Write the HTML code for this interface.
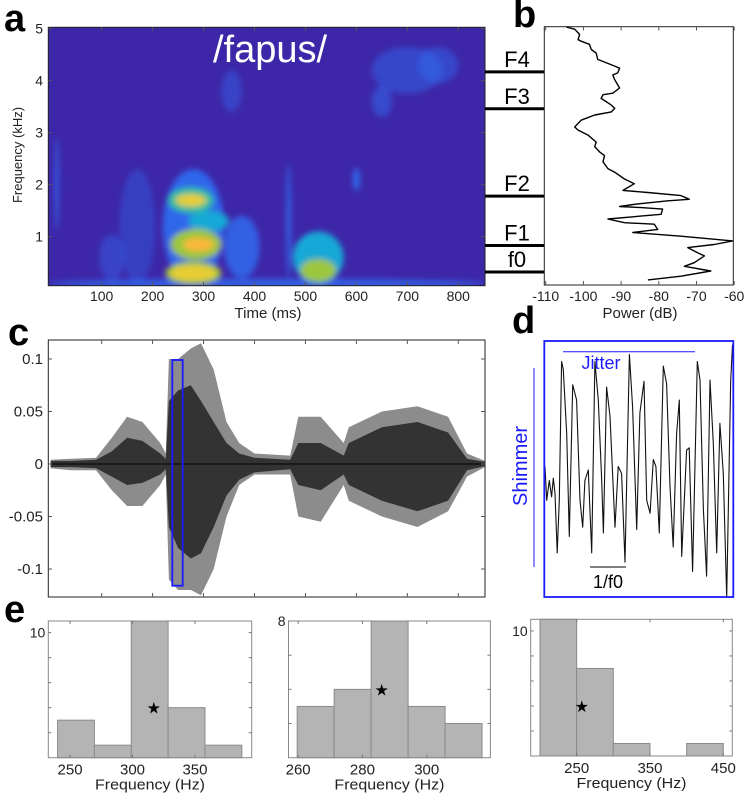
<!DOCTYPE html>
<html><head><meta charset="utf-8"><style>
html,body{margin:0;padding:0;background:#fff;}
svg{display:block;font-family:"Liberation Sans",sans-serif;}
</style></head><body>
<svg id="fig" width="750" height="793" viewBox="0 0 750 793" xmlns="http://www.w3.org/2000/svg">
<defs>
<clipPath id="clipA"><rect x="48.3" y="27.3" width="436.7" height="258.4"/></clipPath>
<clipPath id="clipC"><rect x="48.3" y="340" width="436.7" height="257"/></clipPath>
<filter id="blur4" x="-50%" y="-50%" width="200%" height="200%"><feGaussianBlur stdDeviation="3"/></filter>
</defs>
<g id="panelA"></g>
<g id="panelB"></g>
<g id="panelC"></g>
<g id="panelD"></g>
<g id="panelE"></g>
</svg>
<script>
// ---------- data ----------
// spectrogram energy regions (heatmap)
const blobTime = [280, 290, 285, 275, 275, 280, 280, 375, 525, 525, 600, 700, 650, 760, 355, 170, 12, 467, 425, 120, 310];
const blobFreq = [1.2, 0.85, 0.85, 1.7, 1.7, 0.3, 0.3, 0.8, 0.6, 0.35, 2.1, 4.2, 3.6, 4.3, 3.8, 1.2, 2.0, 1.3, 0.1, 0.6, 1.3];
const blobRT = [60, 30, 50, 30, 45, 55, 45, 35, 50, 35, 7, 70, 20, 40, 20, 35, 4, 5, 430, 25, 40];
const blobRF = [1.1, 0.13, 0.3, 0.12, 0.25, 0.22, 0.15, 0.6, 0.5, 0.22, 0.22, 0.45, 0.3, 0.35, 0.4, 1.1, 0.9, 1.1, 0.09, 0.45, 0.2];
const blobLevel = [0.9, 6, 3.5, 4.5, 3, 4, 5, 0.8, 2, 4.3, 0.9, 0.45, 0.5, 0.45, 0.4, 0.35, 0.8, 0.8, 0.8, 0.4, 2];
const levelColor = ['#3e26a8', '#2f6ef2', '#18a8d6', '#34bd9c', '#9cc63e', '#e7cd34', '#fbb83a'];
// power spectrum
const bPower = [-104.5,-102.3,-101,-101.4,-100.6,-98.4,-97.9,-96.6,-96.2,-94.8,-91.7,-90.4,-90.9,-92.2,-91.7,-90.4,-92.2,-94.8,-95.3,-94,-92.6,-91.7,-92.6,-97,-100.6,-102.3,-101.4,-98.7,-96.6,-97,-95.7,-94.4,-94.8,-93.5,-91.7,-89.1,-86.5,-89.5,-82.9,-74.1,-71.9,-77.6,-85.6,-90.4,-84.7,-79,-79.4,-93.5,-89.1,-81.2,-80.3,-86.9,-74.1,-60.4,-65.3,-72.3,-69.7,-67.9,-70.6,-73.2,-66.2,-74.1,-82.9];
const bFreq = [5.03,4.99,4.89,4.79,4.76,4.70,4.60,4.53,4.41,4.37,4.28,4.24,4.15,4.11,4.02,3.86,3.76,3.73,3.66,3.60,3.53,3.47,3.40,3.34,3.24,3.11,3.05,2.95,2.82,2.73,2.63,2.56,2.44,2.31,2.24,2.11,2.02,1.89,1.85,1.79,1.72,1.69,1.63,1.58,1.56,1.53,1.43,1.34,1.27,1.24,1.14,1.08,1.01,0.92,0.85,0.79,0.69,0.63,0.50,0.43,0.34,0.24,0.17];
const formantNames = ['F4','F3','F2','F1','f0'];
const formantFreq = [4.17, 3.46, 1.78, 0.83, 0.32];
// waveform envelope
const envTime = [0,40,89,120,150,180,215,226,232,250,275,295,320,345,370,400,470,486,530,575,585,650,720,780,817,852];
const envOuterUp = [.004,.005,.006,.025,.045,.04,.02,.01,.1,.1,.11,.115,.09,.04,.02,.01,.008,.045,.045,.02,.035,.05,.055,.045,.01,.003];
const envInnerUp = [.003,.003,.004,.012,.025,.022,.01,.005,.06,.07,.075,.06,.04,.02,.01,.006,.004,.02,.02,.008,.02,.035,.04,.03,.005,.002];
const envInnerLo = [-.003,-.003,-.004,-.012,-.02,-.018,-.01,-.005,-.06,-.08,-.09,-.085,-.06,-.03,-.015,-.008,-.005,-.02,-.025,-.01,-.02,-.035,-.045,-.035,-.006,-.002];
const envOuterLo = [-.004,-.006,-.006,-.025,-.04,-.04,-.02,-.01,-.11,-.12,-.12,-.125,-.1,-.05,-.02,-.01,-.01,-.05,-.055,-.02,-.035,-.05,-.06,-.045,-.012,-.003];
const cTicksY = [0.1, 0.05, 0, -0.05, -0.1];
const cTickLabels = ['0.1','0.05','0','-0.05','-0.1'];
// zoomed waveform (percent of window, normalized amplitude)
const dTime = [0,.9,2.3,3.5,4.4,5.3,6.5,7.6,8.8,9.7,11.5,12.9,14.7,16.8,18.6,20,21.2,23,24.8,26.5,28.3,30.1,31,32.7,34.5,37.2,38.9,40.7,42.5,44.8,46.5,48.7,50.4,52.6,54,55.8,57.5,58.9,60.7,62.8,64.6,66.4,68.1,69.9,71.3,72.6,75.2,76.6,78.4,80.9,82.3,84.1,85.8,87.6,89.4,91.2,92.9,94.7,96.5,98.6,99.6,100];
const dAmp = [.03,-.26,-.09,-.23,-.07,-.2,-.71,-.26,.93,.86,.31,-.57,.73,.6,-.26,-.49,-.09,0,-.71,.93,.6,-.09,-.54,.71,.46,-.49,.03,-.03,-.79,.99,.54,-.51,.49,.76,-.26,-.37,.09,.03,-.54,.89,.74,-.14,-.66,.31,.6,-.74,.17,.19,-.87,.93,.77,-.34,-.91,.77,.23,-.71,.4,-.03,-1.09,.77,1.07,.89];
// histograms
const h1Start = 240, h1Width = 29.5, h1Counts = [3,1,11,4,1], h1Star = [317,4], h1XTicks = [250,300,350];
const h2Start = 259.7, h2Width = 11.5, h2Counts = [3,4,8,3,2], h2Star = [286,4], h2XTicks = [260,280,300];
const h3Start = 200, h3Width = 50, h3Counts = [11,7,1,0,1], h3Star = [257,4], h3XTicks = [250,350,450];

// ---------- helpers ----------
const NS = 'http://www.w3.org/2000/svg';
function mk(tag, attrs, parent, text) {
  const e = document.createElementNS(NS, tag);
  for (const k in attrs) e.setAttribute(k, attrs[k]);
  if (text !== undefined) e.textContent = text;
  parent.appendChild(e);
  return e;
}
const A = document.getElementById('panelA');
const B = document.getElementById('panelB');
const C = document.getElementById('panelC');
const D = document.getElementById('panelD');
const E = document.getElementById('panelE');

const tx = t => 50.7 + t * 0.5095;
const fy = k => 288.7 - 52 * k;

// ---------- panel a ----------
let el = mk('text', {x: 4, y: 31, 'font-size': 38, 'font-weight': 'bold'}, A, 'a');


const specG = mk('g', {'clip-path': 'url(#clipA)'}, A);


mk('rect', {x: 48.3, y: 27.3, width: 436.7, height: 258.4, fill: '#3e26a8'}, specG);
const blobG = mk('g', {filter: 'url(#blur4)'}, specG);
const order = blobLevel.map((v, i) => i).sort((a, b) => blobLevel[a] - blobLevel[b]);
for (const i of order) {
  const lv = blobLevel[i];
  const ci = Math.min(6, Math.max(1, Math.round(lv)));
  const e = mk('ellipse', {cx: tx(blobTime[i]), cy: fy(blobFreq[i]), rx: blobRT[i] * 0.5095, ry: blobRF[i] * 52,
    fill: levelColor[ci], 'fill-opacity': lv < 1 ? lv : 1}, blobG);
  
  
}
mk('rect', {x: 48.3, y: 27.3, width: 436.7, height: 258.4, fill: 'none', stroke: '#222', 'stroke-width': 1}, A);
el = mk('text', {x: 270, y: 62, 'font-size': 38, fill: '#fff', 'text-anchor': 'middle'}, A, '/fapus/');


for (let k = 1; k <= 5; k++) {
  mk('line', {x1: 48.3, x2: 52, y1: fy(k), y2: fy(k), stroke: '#555'}, A);
  mk('line', {x1: 481, x2: 485, y1: fy(k), y2: fy(k), stroke: '#555'}, A);
  el = mk('text', {x: 43, y: fy(k) + 5, 'font-size': 14, 'text-anchor': 'end', fill: '#222'}, A, String(k));
  
  
}
for (let t = 100; t <= 800; t += 100) {
  mk('line', {x1: tx(t), x2: tx(t), y1: 27.3, y2: 31, stroke: '#555'}, A);
  mk('line', {x1: tx(t), x2: tx(t), y1: 282, y2: 285.7, stroke: '#555'}, A);
  el = mk('text', {x: tx(t), y: 301, 'font-size': 14, 'text-anchor': 'middle', fill: '#222'}, A, String(t));
  
  
}
el = mk('text', {x: 268, y: 318, 'font-size': 15, 'text-anchor': 'middle', fill: '#222'}, A, 'Time (ms)');


el = mk('text', {x: 0, y: 0, 'font-size': 13, 'text-anchor': 'middle', fill: '#222', transform: 'translate(22,155) rotate(-90)'}, A, 'Frequency (kHz)');



// ---------- panel b ----------
const px = p => 545.7 + (p + 110) * 3.77;
el = mk('text', {x: 513, y: 27, 'font-size': 38, 'font-weight': 'bold'}, B, 'b');


mk('rect', {x: 544.3, y: 26.7, width: 189, height: 258.3, fill: '#fff', stroke: '#222', 'stroke-width': 1}, B);
for (let p = -110; p <= -60; p += 10) {
  mk('line', {x1: px(p), x2: px(p), y1: 26.7, y2: 30.5, stroke: '#555'}, B);
  mk('line', {x1: px(p), x2: px(p), y1: 281, y2: 285, stroke: '#555'}, B);
  el = mk('text', {x: px(p), y: 301, 'font-size': 14, 'text-anchor': 'middle', fill: '#222'}, B, String(p));
  
  
}
el = mk('text', {x: 640, y: 318, 'font-size': 15, 'text-anchor': 'middle', fill: '#222'}, B, 'Power (dB)');


let dpath = '';
for (let i = 0; i < bPower.length; i++) dpath += (i ? 'L' : 'M') + px(bPower[i]).toFixed(1) + ',' + fy(bFreq[i]).toFixed(1);
el = mk('path', {d: dpath, fill: 'none', stroke: '#000', 'stroke-width': 1.4, 'stroke-linejoin': 'round'}, B);


for (let i = 0; i < formantNames.length; i++) {
  const y = fy(formantFreq[i]);
  el = mk('line', {x1: 485, x2: 544, y1: y, y2: y, stroke: '#000', 'stroke-width': 3}, B);
  
  
  el = mk('text', {x: 517, y: y - 5, 'font-size': 22, 'text-anchor': 'middle', fill: '#000'}, B, formantNames[i]);
  
  
}

// ---------- panel c ----------
const ay = a => 464 - a * 1050;
el = mk('text', {x: 8, y: 345, 'font-size': 38, 'font-weight': 'bold'}, C, 'c');


const cg = mk('g', {'clip-path': 'url(#clipC)'}, C);
function envPath(up, lo) {
  let s = '';
  for (let i = 0; i < envTime.length; i++) s += (i ? 'L' : 'M') + tx(envTime[i]).toFixed(1) + ',' + ay(up[i]).toFixed(1);
  for (let i = envTime.length - 1; i >= 0; i--) s += 'L' + tx(envTime[i]).toFixed(1) + ',' + ay(lo[i]).toFixed(1);
  return s + 'Z';
}
el = mk('path', {d: envPath(envOuterUp, envOuterLo), fill: '#8c8c8c'}, cg);


el = mk('path', {d: envPath(envInnerUp, envInnerLo), fill: '#333'}, cg);


mk('line', {x1: 48.3, x2: 485, y1: ay(0), y2: ay(0), stroke: '#000', 'stroke-width': 1}, cg);
mk('rect', {x: 48.3, y: 340, width: 436.7, height: 257, fill: 'none', stroke: '#222'}, C);
for (let i = 0; i < cTicksY.length; i++) {
  const y = ay(cTicksY[i]);
  mk('line', {x1: 48.3, x2: 52, y1: y, y2: y, stroke: '#555'}, C);
  mk('line', {x1: 481, x2: 485, y1: y, y2: y, stroke: '#555'}, C);
  el = mk('text', {x: 43, y: y + 5, 'font-size': 15, 'text-anchor': 'end', fill: '#222'}, C, cTickLabels[i]);
  
  
}
for (let t = 100; t <= 800; t += 100) {
  mk('line', {x1: tx(t), x2: tx(t), y1: 340, y2: 344, stroke: '#555'}, C);
  mk('line', {x1: tx(t), x2: tx(t), y1: 593, y2: 597, stroke: '#555'}, C);
}
el = mk('rect', {x: 172.3, y: 360, width: 10.4, height: 225.7, fill: 'none', stroke: '#1a1aff', 'stroke-width': 1.8}, C);



// ---------- panel d ----------
const dx = t => 545 + t * 1.883;
const dy = a => 470 - 116.7 * a;
el = mk('text', {x: 512, y: 333, 'font-size': 38, 'font-weight': 'bold'}, D, 'd');


dpath = '';
for (let i = 0; i < dTime.length; i++) dpath += (i ? 'L' : 'M') + dx(dTime[i]).toFixed(1) + ',' + dy(dAmp[i]).toFixed(1);
el = mk('path', {d: dpath, fill: 'none', stroke: '#111', 'stroke-width': 1.1, 'stroke-linejoin': 'round'}, D);


mk('rect', {x: 544.3, y: 341, width: 189, height: 256, fill: 'none', stroke: '#1a1aff', 'stroke-width': 1.8}, D);
mk('line', {x1: 563, x2: 695, y1: 351.7, y2: 351.7, stroke: '#1a1aff', 'stroke-width': 1}, D);
el = mk('text', {x: 601, y: 369, 'font-size': 18, 'text-anchor': 'middle', fill: '#1a1aff'}, D, 'Jitter');


mk('line', {x1: 534, x2: 534, y1: 368, y2: 567, stroke: '#1a1aff', 'stroke-width': 1}, D);
el = mk('text', {x: 0, y: 0, 'font-size': 20, 'text-anchor': 'middle', fill: '#1a1aff', transform: 'translate(527,466) rotate(-90)'}, D, 'Shimmer');


mk('line', {x1: 590, x2: 626, y1: 567, y2: 567, stroke: '#000', 'stroke-width': 1}, D);
el = mk('text', {x: 608, y: 588, 'font-size': 18, 'text-anchor': 'middle', fill: '#000'}, D, '1/f0');



// ---------- panel e ----------
el = mk('text', {x: 4, y: 622, 'font-size': 38, 'font-weight': 'bold'}, E, 'e');


function hist(name, box, xd, yMax, start, width, counts, star, xticks, yTickStep, yLabel) {
  const g = mk('g', {}, E);
  
  
  const [L, T, R, Bt] = box;
  const sx = v => L + (v - xd[0]) / (xd[1] - xd[0]) * (R - L);
  const sy = v => Bt - Math.min(v, yMax) / yMax * (Bt - T);
  for (let i = 0; i < counts.length; i++) {
    if (counts[i] <= 0) continue;
    const x0 = sx(start + i * width), x1 = sx(start + (i + 1) * width);
    const b = mk('rect', {x: x0, y: sy(counts[i]), width: x1 - x0, height: Bt - sy(counts[i]), fill: '#b4b4b4', stroke: '#8a8a8a', 'stroke-width': 1}, g);
    
    
  }
  mk('rect', {x: L, y: T, width: R - L, height: Bt - T, fill: 'none', stroke: '#888', 'stroke-width': 1}, g);
  for (let v = yTickStep; v <= yMax; v += yTickStep) {
    mk('line', {x1: L, x2: L + 3, y1: sy(v), y2: sy(v), stroke: '#777'}, g);
    mk('line', {x1: R - 3, x2: R, y1: sy(v), y2: sy(v), stroke: '#777'}, g);
  }
  const yl = mk('text', {x: L - 3, y: sy(yLabel) + 5, 'font-size': 14, 'text-anchor': 'end', fill: '#222'}, g, String(yLabel));
  
  
  for (const t of xticks) {
    mk('line', {x1: sx(t), x2: sx(t), y1: T, y2: T + 3, stroke: '#777'}, g);
    mk('line', {x1: sx(t), x2: sx(t), y1: Bt - 3, y2: Bt, stroke: '#777'}, g);
    const tl = mk('text', {x: sx(t), y: Bt + 17, 'font-size': 15, 'text-anchor': 'middle', fill: '#222'}, g, String(t));
    
    
  }
  const at = mk('text', {x: (L + R) / 2, y: Bt + 32, 'font-size': 15, 'text-anchor': 'middle', fill: '#222', textLength: 110, lengthAdjust: 'spacingAndGlyphs'}, g, 'Frequency (Hz)');
  
  
  const st = mk('text', {x: sx(star[0]), y: sy(star[1]) + 6, 'font-size': 16, 'text-anchor': 'middle', fill: '#000'}, g, '★');
  
  
}
hist('histogram-1', [48.3, 621, 251.7, 757.7], [232.6, 395.4], 10.93, h1Start, h1Width, h1Counts, h1Star, h1XTicks, 2, 10);
hist('histogram-2', [288.5, 621, 490.4, 757.7], [257, 319.8], 8, h2Start, h2Width, h2Counts, h2Star, h2XTicks, 2, 8);
hist('histogram-3', [530.7, 619.3, 732.3, 756], [187.3, 462.3], 10.93, h3Start, h3Width, h3Counts, h3Star, h3XTicks, 2, 10);
</script>
</body></html>
